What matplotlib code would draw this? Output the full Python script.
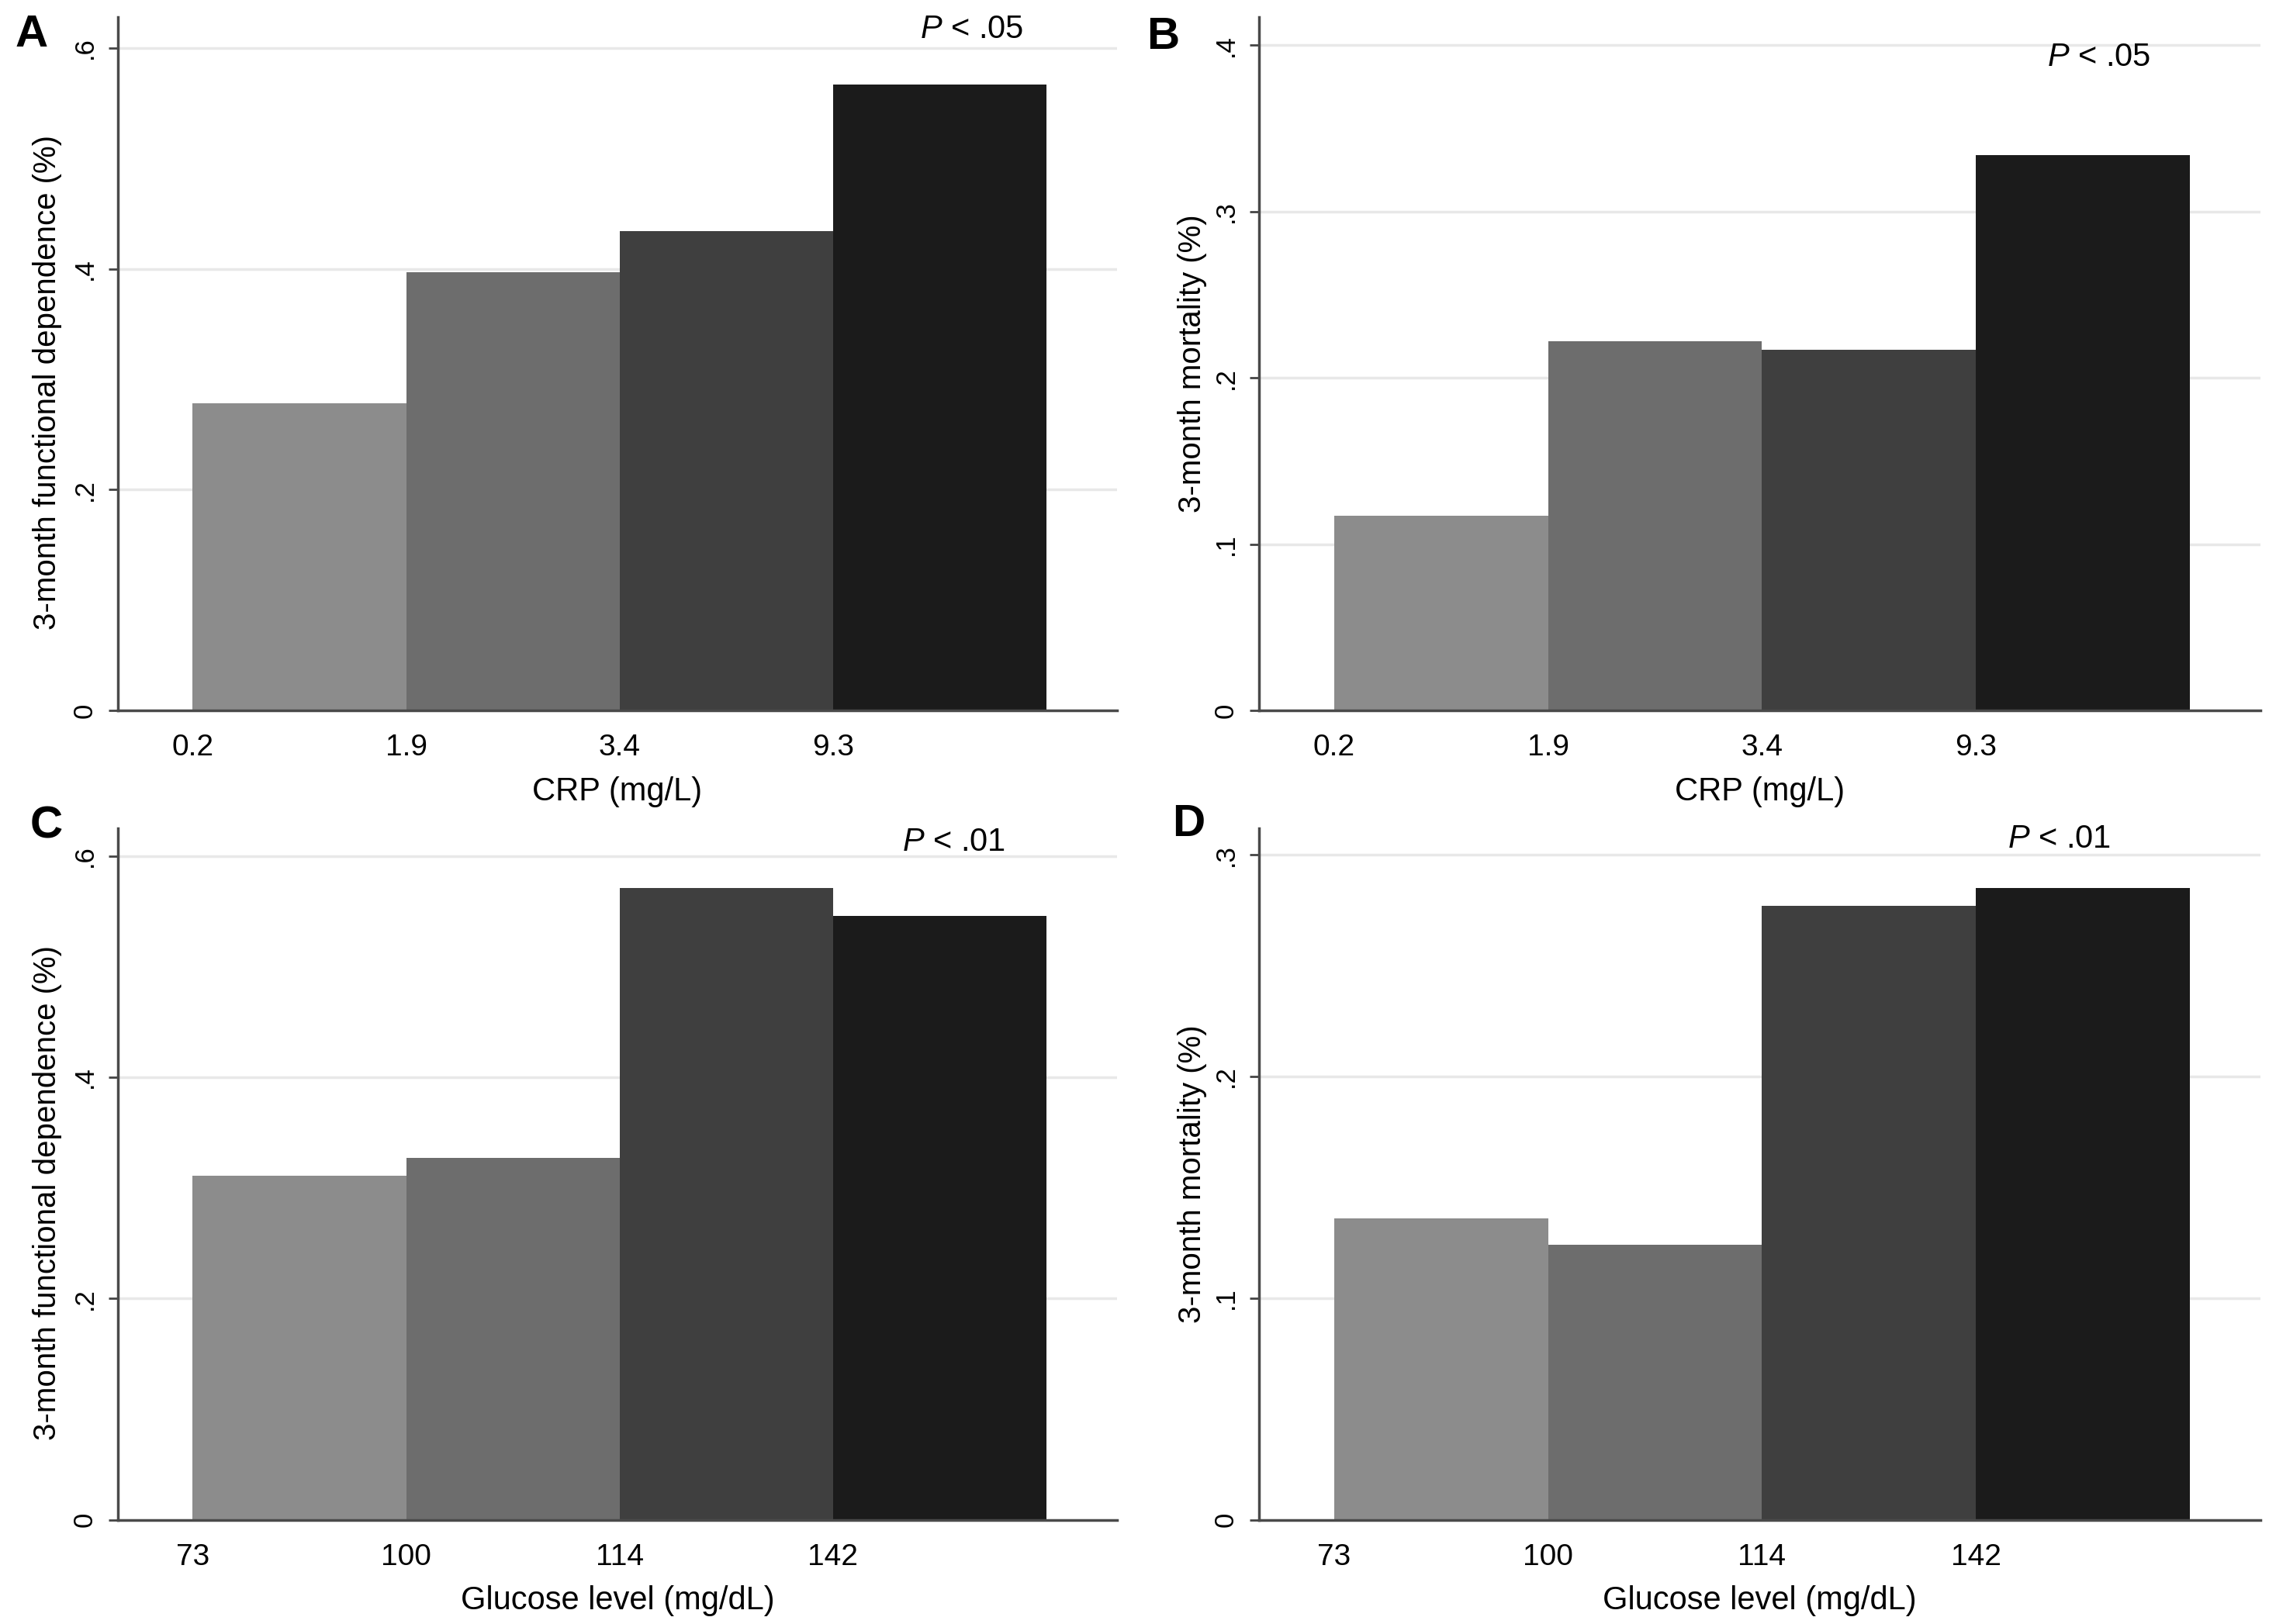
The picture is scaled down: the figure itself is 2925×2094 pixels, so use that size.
import matplotlib
matplotlib.use("Agg")
import matplotlib.pyplot as plt
import numpy as np

# cut points shown under the left edge of each bar
crp_cuts = ["0.2", "1.9", "3.4", "9.3"]
glucose_cuts = ["73", "100", "114", "142"]

# bar heights
crp_dependence = [0.278, 0.397, 0.434, 0.567]
crp_mortality = [0.117, 0.222, 0.217, 0.334]
glucose_dependence = [0.311, 0.327, 0.571, 0.546]
glucose_mortality = [0.136, 0.124, 0.277, 0.285]

bar_colors = ["#8c8c8c", "#6d6d6d", "#3f3f3f", "#1b1b1b"]

plt.rcParams["mathtext.fontset"] = "custom"
plt.rcParams["mathtext.it"] = "Liberation Sans:italic"
plt.rcParams["mathtext.rm"] = "Liberation Sans"

narrow = ["Liberation Sans Narrow", "Liberation Sans", "DejaVu Sans"]
regular = ["Liberation Sans", "DejaVu Sans"]

fig = plt.figure(figsize=(29.25, 20.94), dpi=100)

panels = [
    # letter, values, cuts, xlabel, ylabel, yticks, ytick labels, ymax, rect,
    # letter pos, p text, p pos, ylabel coords
    ("A", crp_dependence, crp_cuts, "CRP (mg/L)", "3-month functional dependence (%)",
     [0, 0.2, 0.4, 0.6], ["0", ".2", ".4", ".6"], 0.628,
     [0.052, 0.5626, 0.4403, 0.4269], (0.0068, 0.9713), "P < .05", (0.4284, 0.9766), (-0.056, 0.473)),
    ("B", crp_mortality, crp_cuts, "CRP (mg/L)", "3-month mortality (%)",
     [0, 0.1, 0.2, 0.3, 0.4], ["0", ".1", ".2", ".3", ".4"], 0.417,
     [0.5549, 0.5626, 0.4414, 0.4269], (0.5053, 0.9699), "P < .05", (0.925, 0.9594), (-0.052, 0.5)),
    ("C", glucose_dependence, glucose_cuts, "Glucose level (mg/dL)", "3-month functional dependence (%)",
     [0, 0.2, 0.4, 0.6], ["0", ".2", ".4", ".6"], 0.625,
     [0.052, 0.0642, 0.4403, 0.4258], (0.0133, 0.4842), "P < .01", (0.4205, 0.4761), (-0.056, 0.473)),
    ("D", glucose_mortality, glucose_cuts, "Glucose level (mg/dL)", "3-month mortality (%)",
     [0, 0.1, 0.2, 0.3], ["0", ".1", ".2", ".3"], 0.312,
     [0.5549, 0.0642, 0.4414, 0.4258], (0.5166, 0.4852), "P < .01", (0.9074, 0.478), (-0.052, 0.5)),
]

for letter, vals, cuts, xlab, ylab, yt, ytl, ymax, rect, lpos, ptxt, ppos, lcoords in panels:
    ax = fig.add_axes(rect)
    x = np.arange(len(vals))
    ax.bar(x, vals, width=1.0, align="edge", color=bar_colors, edgecolor="none", zorder=2)
    ax.set_xlim(-0.35, 4.33)
    ax.set_ylim(0, ymax)

    ax.set_xticks(x)
    ax.set_xticklabels(cuts, fontsize=28, family=narrow)
    ax.tick_params(axis="x", length=0, pad=22)

    ax.set_yticks(yt)
    ax.set_yticklabels(ytl, fontsize=25, family=regular, rotation=90, va="center")
    ax.tick_params(axis="y", length=9, width=2, color="#444444", pad=10)

    ax.yaxis.grid(True, color="#e8e8e8", linewidth=2.5)
    ax.set_axisbelow(True)

    for side in ["top", "right"]:
        ax.spines[side].set_visible(False)
    for side in ["left", "bottom"]:
        ax.spines[side].set_color("#4a4a4a")
        ax.spines[side].set_linewidth(2.5)

    ax.set_xlabel(xlab, fontsize=30, family=regular, labelpad=13)
    ax.set_ylabel(ylab, fontsize=29, family=regular)
    ax.yaxis.set_label_coords(*lcoords)

    fig.text(lpos[0], lpos[1], letter, fontsize=42, fontweight="bold", family=narrow,
             ha="left", va="baseline")
    fig.text(ppos[0], ppos[1], "$P$" + ptxt[1:], fontsize=30, family=narrow,
             ha="center", va="baseline")

fig.savefig("out.png", dpi=100, facecolor="white")
